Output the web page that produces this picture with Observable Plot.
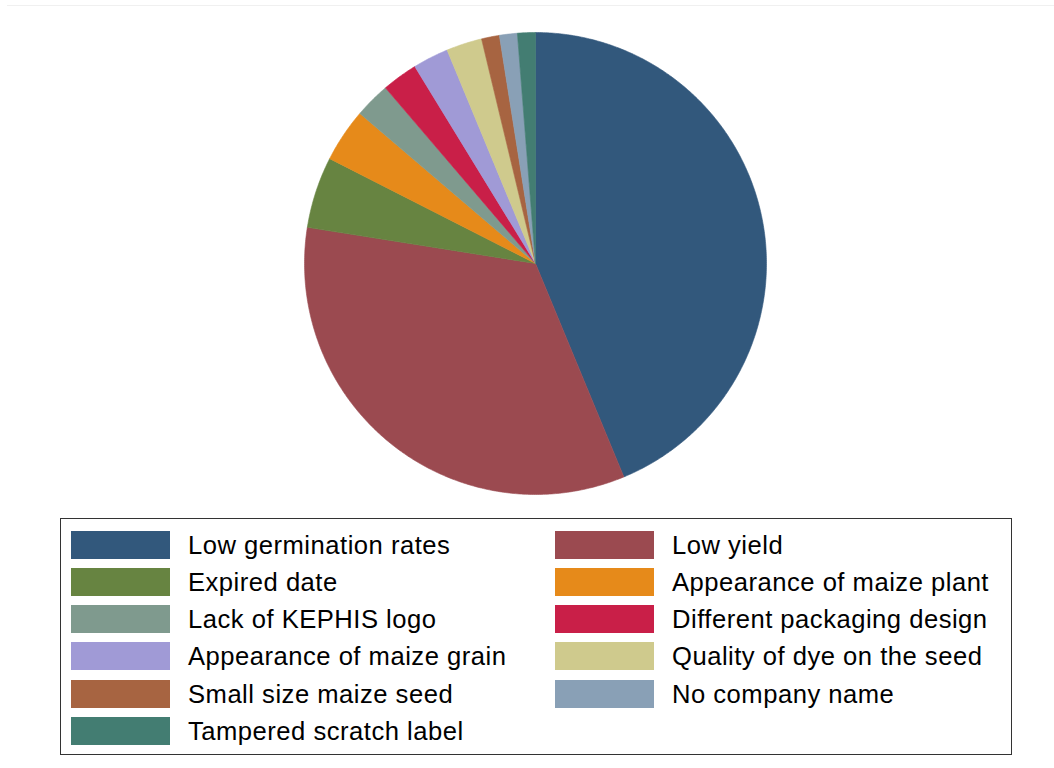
<!DOCTYPE html>
<html>
<head>
<meta charset="utf-8">
<script src="https://cdn.jsdelivr.net/npm/d3@7"></script>
<script src="https://cdn.jsdelivr.net/npm/@observablehq/plot@0.6"></script>
<style>
  html, body { margin: 0; padding: 0; background: #fff; }
  #wrap { position: relative; width: 1054px; height: 768px; font-family: "Liberation Sans", Arial, sans-serif; overflow: hidden; }
  #topline { position: absolute; left: 7px; top: 5px; width: 1047px; height: 1px; background: #f0f0f0; }
  #chart { position: absolute; left: 0; top: 0; }
  #legend { position: absolute; left: 60px; top: 518px; width: 950px; height: 235px; border: 1px solid #333; box-sizing: content-box; }
  .item { position: absolute; display: flex; align-items: center; height: 28px; }
  .sw { width: 99px; height: 28px; margin-right: 18px; flex: none; }
  .lb { font-size: 25.6px; letter-spacing: 0.5px; color: #000; white-space: nowrap; line-height: 28px; }
</style>
</head>
<body>
<div id="wrap">
  <div id="topline"></div>
  <div id="chart"></div>
  <div id="legend"></div>
</div>
<script>
const categories = [
  "Low germination rates",
  "Low yield",
  "Expired date",
  "Appearance of maize plant",
  "Lack of KEPHIS logo",
  "Different packaging design",
  "Appearance of maize grain",
  "Quality of dye on the seed",
  "Small size maize seed",
  "No company name",
  "Tampered scratch label"
];
const counts = [35, 27, 4, 3, 2, 2, 2, 2, 1, 1, 1];
const colors = [
  "#32587c", "#9b4a50", "#678441", "#e68a1a", "#7f9a8e", "#c91f48",
  "#a09ad6", "#cfca8d", "#a76441", "#89a0b6", "#437d72"
];

// Build slice polygons (clockwise from 12 o'clock) from the values
const pie = d3.pie().sort(null).value(d => d.count)(categories.map((c, i) => ({category: c, count: counts[i]})));
const pts = [];
for (const s of pie) {
  const cat = s.data.category;
  pts.push({category: cat, x: 0, y: 0});
  const n = Math.max(2, Math.ceil((s.endAngle - s.startAngle) / (Math.PI / 360)));
  for (let k = 0; k <= n; k++) {
    const a = s.startAngle + (s.endAngle - s.startAngle) * k / n;
    pts.push({category: cat, x: Math.sin(a), y: Math.cos(a)});
  }
  pts.push({category: cat, x: 0, y: 0});
}

const chart = Plot.plot({
  width: 1054,
  height: 510,
  marginLeft: 304,
  marginRight: 288,
  marginTop: 32,
  marginBottom: 16,
  axis: null,
  style: {background: "transparent"},
  x: {domain: [-1, 1]},
  y: {domain: [-1, 1]},
  color: {domain: categories, range: colors},
  marks: [
    Plot.line(pts, {x: "x", y: "y", z: "category", fill: "category", stroke: "category", strokeWidth: 0.6, curve: "linear"})
  ]
});
document.getElementById("chart").appendChild(chart);

// Legend (two columns, row-major)
const legend = document.getElementById("legend");
categories.forEach((c, i) => {
  const col = i % 2, row = Math.floor(i / 2);
  const it = document.createElement("div");
  it.className = "item";
  it.style.left = (col === 0 ? 10 : 494) + "px";
  it.style.top = (11.5 + row * 37.3) + "px";
  const sw = document.createElement("div");
  sw.className = "sw";
  sw.style.background = colors[i];
  const lb = document.createElement("span");
  lb.className = "lb";
  lb.textContent = c;
  it.appendChild(sw); it.appendChild(lb);
  legend.appendChild(it);
});
</script>
</body>
</html>
